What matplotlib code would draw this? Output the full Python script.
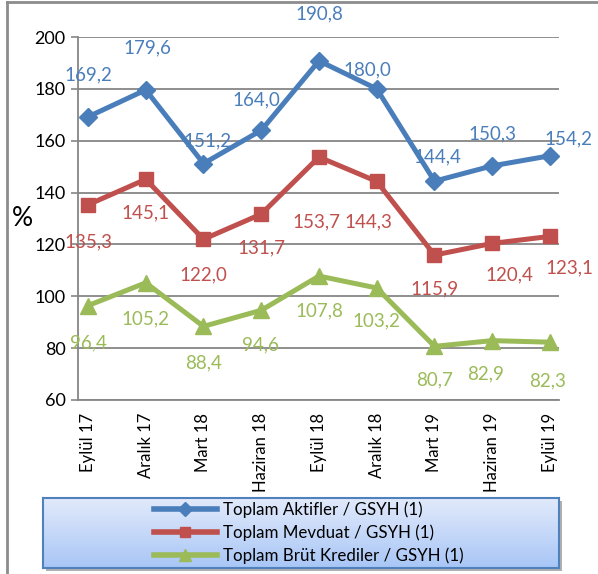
import matplotlib
matplotlib.use("Agg")
from matplotlib import pyplot as plt
from matplotlib.lines import Line2D
from matplotlib.colors import LinearSegmentedColormap
import matplotlib.patches as mpatches
import numpy as np

plt.rcParams['font.family'] = ['Lato', 'DejaVu Sans']

categories = ["Eylül 17", "Aralık 17", "Mart 18", "Haziran 18", "Eylül 18",
              "Aralık 18", "Mart 19", "Haziran 19", "Eylül 19"]
aktifler = [169.2, 179.6, 151.2, 164.0, 190.8, 180.0, 144.4, 150.3, 154.2]
mevduat = [135.3, 145.1, 122.0, 131.7, 153.7, 144.3, 115.9, 120.4, 123.1]
krediler = [96.4, 105.2, 88.4, 94.6, 107.8, 103.2, 80.7, 82.9, 82.3]
names = ["Toplam Aktifler / GSYH (1)", "Toplam Mevduat / GSYH (1)",
         "Toplam Brüt Krediler / GSYH (1)"]

# label offsets in pixels (dx, dy down)
off_a = [(0, -42), (2, -42), (4, -23), (-5, -30), (0, -47), (-9, -19), (3, -24), (0, -32), (18, -17)]
off_m = [(0, 37), (0, 34), (0, 36), (0, 34), (-3, 65), (-8, 40), (0, 34), (17, 31), (19, 31)]
off_k = [(0, 37), (0, 36), (0, 37), (-1, 35), (0, 35), (0, 33), (0, 34), (-7, 33), (-2, 39)]

colors = ['#4a7ebb', '#c0504d', '#9bbb59']
markers = ['D', 's', '^']
msizes = [9, 10, 11]

W, H = 598, 574
fig = plt.figure(figsize=(W / 100, H / 100), dpi=100)
ax = fig.add_axes([78 / W, 1 - 400 / H, (559 - 78) / W, 363 / H])

x = np.arange(len(categories))
series = [aktifler, mevduat, krediler]
offsets = [off_a, off_m, off_k]
for vals, col, mk, ms, offs in zip(series, colors, markers, msizes, offsets):
    ax.plot(x, vals, color=col, lw=3.6, marker=mk, ms=ms, zorder=3)
    for xi, v, (dx, dy) in zip(x, vals, offs):
        ax.annotate(f"{v:.1f}".replace('.', ','), (xi, v), xytext=(dx, -dy),
                    textcoords='offset pixels', ha='center', va='center',
                    color=col, fontsize=13.5, zorder=4)

ax.set_ylim(60, 200)
ax.set_xlim(-0.173, 8.156)
ax.set_yticks(range(60, 201, 20))
ax.set_xticks(x)
ax.set_xticklabels(categories, rotation=90, fontsize=12)
ax.tick_params(axis='y', labelsize=13, length=5, color='#868686', width=1.2, pad=4)
ax.tick_params(axis='x', length=0, pad=9)
ax.grid(axis='y', color='#868686', lw=1.3)
ax.set_axisbelow(True)
for s in ['top', 'right']:
    ax.spines[s].set_visible(False)
for s in ['left', 'bottom']:
    ax.spines[s].set_color('#868686')
    ax.spines[s].set_linewidth(1.3)
fig.text(22 / W, 1 - 218 / H, '%', fontsize=19, ha='center', va='center')

# outer frame
fig.add_artist(Line2D([7 / W, 7 / W], [0, 1 - 1.5 / H], color='#8c8c8c', lw=2, transform=fig.transFigure))
fig.add_artist(Line2D([7 / W, 1], [1 - 1.5 / H, 1 - 1.5 / H], color='#8c8c8c', lw=2, transform=fig.transFigure))

# legend box with gradient and shadow
lx0, lx1, ly0, ly1 = 43, 559, 498, 568
shadow = mpatches.Rectangle(((lx0 + 3) / W, 1 - (ly1 + 3) / H), (lx1 - lx0) / W, (ly1 - ly0) / H,
                            transform=fig.transFigure, color='#b0b0b0', lw=0, zorder=1)
fig.add_artist(shadow)
lax = fig.add_axes([lx0 / W, 1 - ly1 / H, (lx1 - lx0) / W, (ly1 - ly0) / H], zorder=2)
grad = np.linspace(0, 1, 100).reshape(-1, 1)
cmap = LinearSegmentedColormap.from_list('g', ['#e2eafb', '#a8c6f6'])
lax.imshow(grad, aspect='auto', cmap=cmap, extent=[0, 1, 0, 1])
lax.set_xticks([])
lax.set_yticks([])
for s in lax.spines.values():
    s.set_color('#4f81bd')
    s.set_linewidth(1.5)
handles = [Line2D([], [], color=c, lw=4, marker=m, ms=ms * 0.75) for c, m, ms in zip(colors, markers, msizes)]
lax.legend(handles, names, loc='center', bbox_to_anchor=(0.515, 0.5), frameon=False,
           fontsize=12.2, handlelength=3.7, handletextpad=0.35, labelspacing=0.38,
           borderpad=0)

fig.savefig('out.png', dpi=100)
